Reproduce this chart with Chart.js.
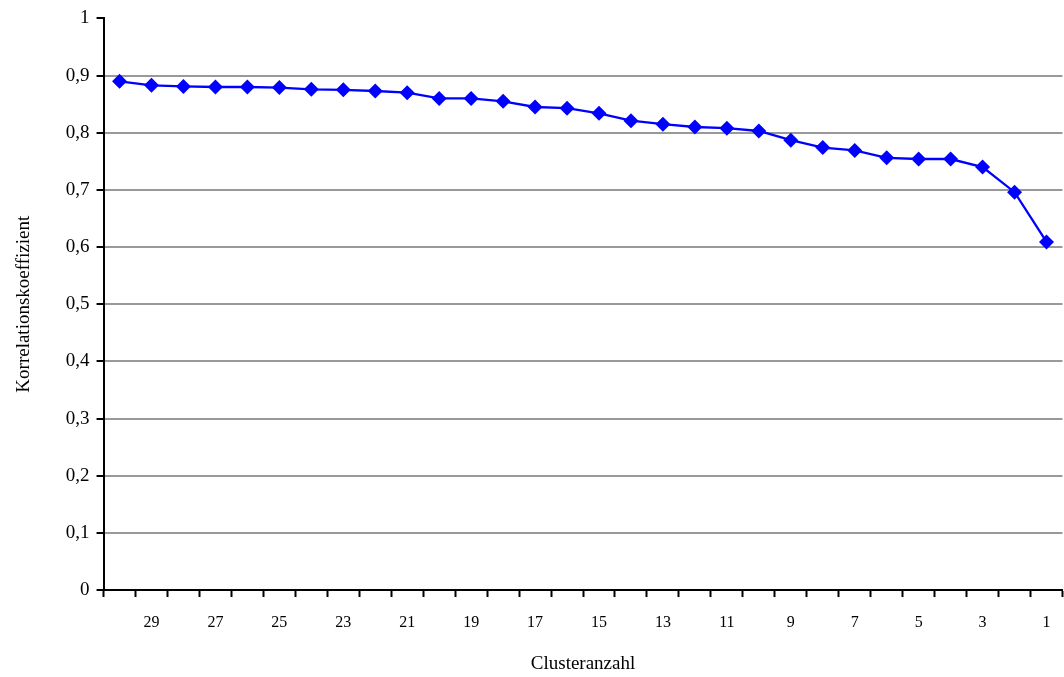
<!DOCTYPE html>
<html>
<head>
<meta charset="utf-8">
<script src="https://cdn.jsdelivr.net/npm/chart.js@4/dist/chart.umd.min.js"></script>
<style>
    html, body { margin: 0; padding: 0; background: #fff; overflow: hidden; }
    #wrap { position: relative; width: 1070px; height: 677px; }
</style>
</head>
<body>
<div id="wrap"><canvas id="corrChart"></canvas></div>
<script>
// Clusteranzahl (x) und Korrelationskoeffizient (y)
const clusterLabels = ['30', '29', '28', '27', '26', '25', '24', '23', '22', '21',
    '20', '19', '18', '17', '16', '15', '14', '13', '12', '11',
    '10', '9', '8', '7', '6', '5', '4', '3', '2', '1'];
const korrelation = [0.890, 0.883, 0.881, 0.880, 0.880, 0.879, 0.876, 0.875, 0.873, 0.870,
    0.860, 0.860, 0.855, 0.845, 0.843, 0.834, 0.821, 0.815, 0.810, 0.808,
    0.803, 0.787, 0.774, 0.769, 0.756, 0.754, 0.754, 0.740, 0.696, 0.609];

const serif = '"Liberation Serif", "Times New Roman", serif';

const ctx = document.getElementById('corrChart');
new Chart(ctx.getContext('2d'), {
    type: 'line',
    data: {
        labels: clusterLabels,
        datasets: [{
            data: korrelation,
            borderColor: '#0000ff',
            backgroundColor: '#0000ff',
            borderWidth: 2.3,
            pointStyle: 'rectRot',
            pointRadius: 7.5,
            pointBorderWidth: 0,
            tension: 0,
            fill: false
        }]
    },
    options: {
        responsive: true,
        maintainAspectRatio: false,
        animation: false,
        layout: { padding: { left: 13, right: 1, top: 8, bottom: 2 } },
        plugins: {
            legend: { display: false },
            tooltip: { enabled: false }
        },
        scales: {
            x: {
                offset: true,
                grid: {
                    offset: true,
                    drawOnChartArea: false,
                    tickColor: '#000',
                    tickLength: 7,
                    tickWidth: 2
                },
                border: { color: '#000', width: 2 },
                ticks: {
                    autoSkip: false,
                    maxRotation: 0,
                    color: '#000',
                    font: { family: serif, size: 16 },
                    padding: 16,
                    callback: function (val, i) {
                        return i % 2 === 1 ? this.getLabelForValue(val) : '';
                    }
                },
                title: {
                    display: true,
                    text: 'Clusteranzahl',
                    color: '#000',
                    font: { family: serif, size: 19 },
                    padding: { top: 4, bottom: 0 }
                }
            },
            y: {
                min: 0,
                max: 1,
                grid: {
                    color: (c) => (c.tick && c.tick.value >= 1) ? 'rgba(0,0,0,0)' : '#999',
                    lineWidth: 2,
                    tickColor: '#000',
                    tickLength: 7,
                    tickWidth: 2
                },
                border: { color: '#000', width: 2 },
                ticks: {
                    stepSize: 0.1,
                    color: '#000',
                    font: { family: serif, size: 19 },
                    padding: 7,
                    callback: (v) => Math.round(v * 10) / 10 === 1 ? '1'
                        : (Math.round(v * 10) / 10).toFixed(1).replace('.', ',').replace('0,0', '0')
                },
                title: {
                    display: true,
                    text: 'Korrelationskoeffizient',
                    color: '#000',
                    font: { family: serif, size: 19 },
                    padding: { top: 0, bottom: 23 }
                }
            }
        }
    }
});
</script>
</body>
</html>
